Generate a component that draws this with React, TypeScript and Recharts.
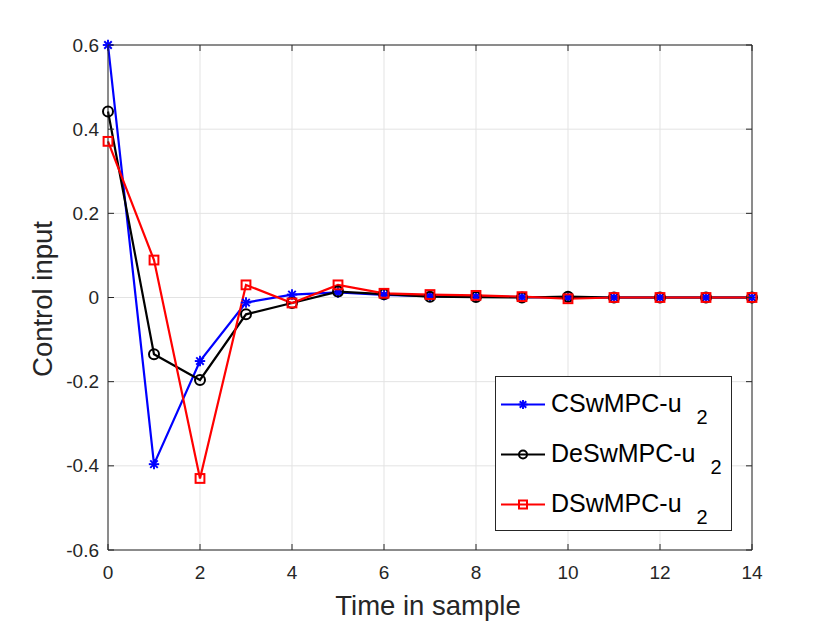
import { LineChart, Line, XAxis, YAxis, CartesianGrid } from 'recharts';

const samples = [0, 1, 2, 3, 4, 5, 6, 7, 8, 9, 10, 11, 12, 13, 14];
const cswmpc = [0.6, -0.396, -0.151, -0.012, 0.007, 0.012, 0.006, 0.003, 0.002, 0.001, 0, 0, 0, 0, 0];
const deswmpc = [0.442, -0.135, -0.196, -0.04, -0.013, 0.014, 0.008, 0.002, 0.001, 0, 0.002, 0, 0, 0, 0];
const dswmpc = [0.371, 0.089, -0.43, 0.03, -0.013, 0.03, 0.01, 0.007, 0.005, 0.002, -0.003, 0, 0, 0, 0];

const xTicks = [0, 2, 4, 6, 8, 10, 12, 14];
const yTicks = [-0.6, -0.4, -0.2, 0, 0.2, 0.4, 0.6];

const seriesInfo = [
  { key: 'c', name: 'CSwMPC-u', color: '#0000ff', marker: 'star', size: 5.2 },
  { key: 'de', name: 'DeSwMPC-u', color: '#000000', marker: 'circle', size: 5 },
  { key: 'd', name: 'DSwMPC-u', color: '#ff0000', marker: 'square', size: 4.4 },
];

const rows = samples.map((t, i) => ({ t, c: cswmpc[i], de: deswmpc[i], d: dswmpc[i] }));

const AXIS = '#262626';
const FONT = '"Liberation Sans", Arial, Helvetica, sans-serif';

const fmt = (v: number) => (v === 0 ? '0' : v.toFixed(1));

function Marker({ kind, cx, cy, color, s }: { kind: string; cx: number; cy: number; color: string; s: number }) {
  if (kind === 'star') {
    const d = s * 0.72;
    return (
      <g stroke={color} strokeWidth={1.9}>
        <line x1={cx - s} y1={cy} x2={cx + s} y2={cy} />
        <line x1={cx} y1={cy - s} x2={cx} y2={cy + s} />
        <line x1={cx - d} y1={cy - d} x2={cx + d} y2={cy + d} />
        <line x1={cx - d} y1={cy + d} x2={cx + d} y2={cy - d} />
      </g>
    );
  }
  if (kind === 'circle') {
    return <circle cx={cx} cy={cy} r={s} fill="none" stroke={color} strokeWidth={2} />;
  }
  return <rect x={cx - s} y={cy - s} width={s * 2} height={s * 2} fill="none" stroke={color} strokeWidth={2} />;
}

const makeDot = (kind: string, color: string, s: number) => (p: any) => (
  <Marker key={`${kind}-${p.index}`} kind={kind} cx={p.cx} cy={p.cy} color={color} s={s} />
);

const BottomTick = (p: any) => (
  <g>
    <line x1={p.x} x2={p.x} y1={p.y} y2={p.y - 6} stroke={AXIS} />
    <text x={p.x} y={p.y + 28.5} textAnchor="middle" fontSize={19} fontFamily={FONT} fill={AXIS}>
      {p.payload.value}
    </text>
  </g>
);

const LeftTick = (p: any) => (
  <g>
    <line x1={p.x} x2={p.x + 6} y1={p.y} y2={p.y} stroke={AXIS} />
    <text x={p.x - 9} y={p.y} dy="0.35em" textAnchor="end" fontSize={19} fontFamily={FONT} fill={AXIS}>
      {fmt(p.payload.value)}
    </text>
  </g>
);

const TopTick = (p: any) => <line x1={p.x} x2={p.x} y1={p.y} y2={p.y + 6} stroke={AXIS} />;
const RightTick = (p: any) => <line x1={p.x} x2={p.x - 6} y1={p.y} y2={p.y} stroke={AXIS} />;

// legend drawn as a plain svg group so it takes no layout space
function LegendBox() {
  return (
    <g transform="translate(495, 376)">
      <rect x={0.5} y={0.5} width={236} height={154} fill="#fff" stroke={AXIS} strokeWidth={1} />
      {seriesInfo.map((s, i) => {
        const ly = 28.5 + i * 50;
        return (
          <g key={s.key}>
            <line x1={6} x2={50} y1={ly} y2={ly} stroke={s.color} strokeWidth={2.2} />
            <Marker kind={s.marker} cx={28} cy={ly} color={s.color} s={s.marker === 'star' ? 4.5 : 4} />
            <text x={56} y={ly + 7} fontSize={25} fontFamily={FONT} fill="#000">
              {s.name}
              <tspan dx={15} dy={12} fontSize={20}>2</tspan>
            </text>
          </g>
        );
      })}
    </g>
  );
}

export default function App() {
  return (
    <div style={{ position: 'absolute', left: 0, top: 0, width: 830, height: 623, background: '#fff' }}>
      <LineChart width={830} height={623} data={rows} margin={{ top: 44, right: 77, bottom: 23, left: 48 }}>
        <CartesianGrid stroke="#e3e3e3" strokeWidth={1} />
        <XAxis
          dataKey="t"
          type="number"
          domain={[0, 14]}
          ticks={xTicks}
          height={50}
          tickSize={0}
          tickMargin={0}
          tickLine={false}
          stroke={AXIS}
          tick={BottomTick}
          interval={0}
          label={{
            content: () => (
              <text x={428} y={615} textAnchor="middle" fontSize={27.5} fontFamily={FONT} fill={AXIS}>
                Time in sample
              </text>
            ),
          }}
        />
        <XAxis
          xAxisId="top"
          orientation="top"
          dataKey="t"
          type="number"
          domain={[0, 14]}
          ticks={xTicks}
          height={1}
          tickSize={0}
          tickMargin={0}
          tickLine={false}
          stroke={AXIS}
          tick={TopTick}
          interval={0}
        />
        <YAxis
          type="number"
          domain={[-0.6, 0.6]}
          ticks={yTicks}
          width={60}
          tickSize={0}
          tickMargin={0}
          tickLine={false}
          stroke={AXIS}
          tick={LeftTick}
          interval={0}
          label={{
            content: () => (
              <text
                x={52}
                y={299}
                transform="rotate(-90, 52, 299)"
                textAnchor="middle"
                fontSize={27.5}
                fontFamily={FONT}
                fill={AXIS}
              >
                Control input
              </text>
            ),
          }}
        />
        <YAxis
          yAxisId="right"
          orientation="right"
          type="number"
          domain={[-0.6, 0.6]}
          ticks={yTicks}
          width={1}
          tickSize={0}
          tickMargin={0}
          tickLine={false}
          stroke={AXIS}
          tick={RightTick}
          interval={0}
          label={{ content: () => <LegendBox /> }}
        />
        {/* invisible series so the top and right frame axes get drawn */}
        <Line
          dataKey="c"
          xAxisId="top"
          yAxisId="right"
          stroke="none"
          dot={false}
          activeDot={false}
          legendType="none"
          isAnimationActive={false}
        />
        {seriesInfo.map((s) => (
          <Line
            key={s.key}
            dataKey={s.key}
            name={s.name}
            type="linear"
            stroke={s.color}
            strokeWidth={2.2}
            dot={makeDot(s.marker, s.color, s.size)}
            activeDot={false}
            isAnimationActive={false}
          />
        ))}
      </LineChart>
    </div>
  );
}
